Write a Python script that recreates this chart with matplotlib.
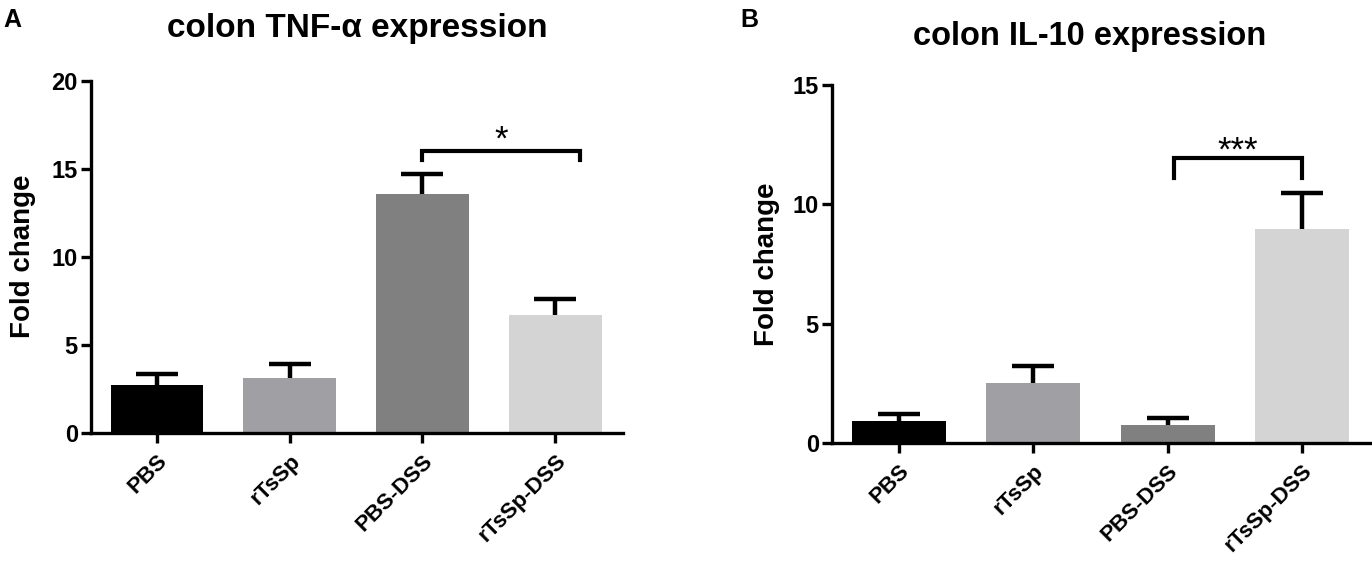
import matplotlib
matplotlib.use("Agg")
import matplotlib.pyplot as plt

plt.rcParams['font.family'] = ['Liberation Sans', 'DejaVu Sans']
plt.rcParams['font.weight'] = 'bold'

categories = ['PBS', 'rTsSp', 'PBS-DSS', 'rTsSp-DSS']
bar_colors = ['#000000', '#a0a0a4', '#808080', '#d4d4d4']

tnf_mean = [2.75, 3.14, 13.58, 6.68]
tnf_sem = [0.58, 0.75, 1.10, 0.90]
tnf_bracket = (2, 3.19, 16.0, 15.5)   # x1, x2, y top, y tips
tnf_sig = '*'

il10_mean = [0.91, 2.51, 0.77, 8.96]
il10_sem = [0.32, 0.73, 0.28, 1.53]
il10_bracket = (2.05, 3.0, 11.96, 11.09)
il10_sig = '***'

W, H = 1372, 563
fig = plt.figure(figsize=(W / 100, H / 100), dpi=100)


def px(x0, y0, x1, y1):
    # pixel box (left, top, right, bottom) -> figure fraction rect
    return [x0 / W, 1 - y1 / H, (x1 - x0) / W, (y1 - y0) / H]


def panel(rect, means, sems, ymax, yticks, xlim, bracket, sig, sig_y, label_x):
    ax = fig.add_axes(rect)
    x = list(range(len(categories)))
    ax.bar(x, means, width=0.7, color=bar_colors, edgecolor='none', zorder=2)
    _, caps, _ = ax.errorbar(x, means, yerr=[[0] * len(sems), sems], fmt='none',
                             ecolor='black', elinewidth=3.2, capsize=15,
                             capthick=3.2, zorder=3)
    caps[0].set_visible(False)  # only the upper cap is drawn
    ax.set_xlim(*xlim)
    ax.set_ylim(0, ymax)
    ax.set_yticks(yticks)
    ax.set_xticks(x)
    ax.set_xticklabels(categories, rotation=45, ha='right', rotation_mode='anchor',
                       fontsize=16, fontweight='bold')
    ax.tick_params(axis='both', direction='out', length=7.5, width=2.4)
    ax.tick_params(axis='y', labelsize=17, pad=2)
    ax.tick_params(axis='x', pad=5)
    for lab in ax.get_yticklabels():
        lab.set_fontweight('bold')
    for s in ['top', 'right']:
        ax.spines[s].set_visible(False)
    for s in ['left', 'bottom']:
        ax.spines[s].set_linewidth(2.4)
    ax.set_ylabel('Fold change', fontsize=20, fontweight='bold')
    ax.yaxis.set_label_coords(label_x, 0.5)
    x1, x2, yt, yb = bracket
    ax.plot([x1, x1, x2, x2], [yb, yt, yt, yb], color='black', lw=3,
            solid_joinstyle='miter', clip_on=False, zorder=4)
    ax.text((x1 + x2) / 2, sig_y, sig, ha='center', va='center', fontsize=25,
            fontweight='normal')
    return ax


axA = panel(px(91, 80.5, 623, 433), tnf_mean, tnf_sem, 20, [0, 5, 10, 15, 20],
            (-0.497, 3.512), tnf_bracket, tnf_sig, 16.6, -0.103)
axB = panel(px(832, 85, 1371, 443), il10_mean, il10_sem, 15, [0, 5, 10, 15],
            (-0.499, 3.514), il10_bracket, il10_sig, 12.25, -0.097)

fig.text(357 / W, 1 - 28 / H, 'colon TNF-α expression', ha='center', va='center',
         fontsize=24, fontweight='bold')
fig.text(1090 / W, 1 - 37 / H, 'colon IL-10 expression', ha='center', va='center',
         fontsize=23.5, fontweight='bold')
fig.text(3 / W, 1 - 20 / H, 'A', ha='left', va='center', fontsize=18, fontweight='bold')
fig.text(740 / W, 1 - 20 / H, 'B', ha='left', va='center', fontsize=18, fontweight='bold')

fig.savefig('out.png', dpi=100)
